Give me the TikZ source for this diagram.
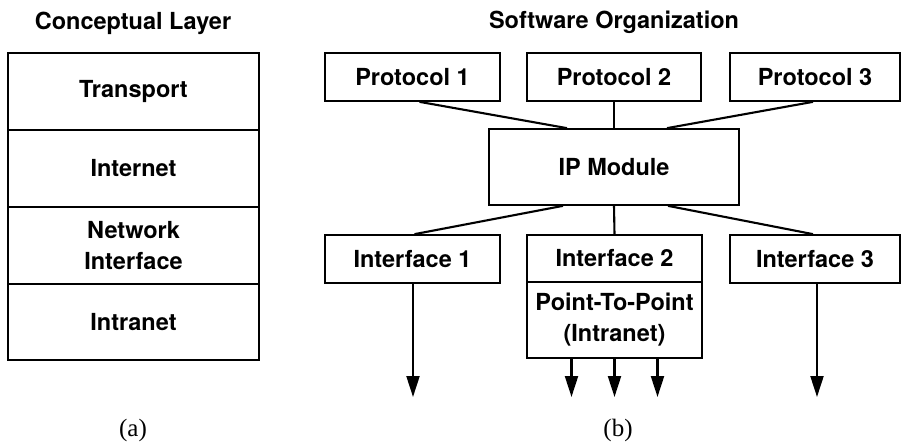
\documentclass[tikz,border=0pt]{standalone}
\usepackage{fontspec}
\setmainfont{TeX Gyre Heros}
\newfontfamily\capserif{Liberation Serif}
\usetikzlibrary{arrows.meta,calc}
\begin{document}
\begin{tikzpicture}[x=1pt,y=-1pt,
  lbl/.style={font=\fontsize{23.5}{31}\selectfont\bfseries, align=center},
  boxnode/.style={lbl, draw, line width=1.7pt, inner sep=0pt, anchor=center},
  link/.style={line width=2.1pt},
  outarrow/.style={line width=2.1pt, -{Triangle[length=21pt,width=13pt]}},
  captext/.style={font=\fontsize{25}{28}\selectfont\capserif}]
\useasboundingbox (0,0) rectangle (902,446);
% titles
\node[lbl] (t1) at (133,23) {Conceptual Layer};
\node[lbl] (t2) at (614,22) {Software Organization};
% conceptual layers
\node[boxnode, minimum width=251pt, minimum height=77pt] (tr) at (133.5,91.5) {Transport};
\node[boxnode, minimum width=251pt, minimum height=77pt] (in) at (133.5,168.5) {Internet};
\node[boxnode, minimum width=251pt, minimum height=77pt] (ni) at (133.5,245.5) {Network\\Interface};
\node[boxnode, minimum width=251pt, minimum height=76pt] (it) at (133.5,322) {Intranet};
% protocols
\node[boxnode, minimum width=175pt, minimum height=48pt] (p1) at (412.5,77) {Protocol 1};
\node[boxnode, minimum width=174pt, minimum height=48pt] (p2) at (614,77) {Protocol 2};
\node[boxnode, minimum width=170pt, minimum height=48pt] (p3) at (815,77) {Protocol 3};
% IP module
\node[boxnode, minimum width=250pt, minimum height=76pt] (ip) at (614,167) {IP Module};
% interfaces
\node[boxnode, minimum width=175pt, minimum height=48pt] (if1) at (412.5,259) {Interface 1};
\node[boxnode, minimum width=175pt, minimum height=47pt] (if2) at (614.5,258.5) {Interface 2};
\node[boxnode, minimum width=175pt, minimum height=76pt] (pp) at (614.5,320) {Point-To-Point\\(Intranet)};
\node[boxnode, minimum width=170pt, minimum height=48pt] (if3) at (815,259) {Interface 3};
% connectors
\draw[link] ([xshift=7pt]p1.south) -- ([xshift=-47pt]ip.north);
\draw[link] (p2.south) -- (ip.north);
\draw[link] ([xshift=-2pt]p3.south) -- ([xshift=53pt]ip.north);
\draw[link] ([xshift=-51pt]ip.south) -- ([xshift=2pt]if1.north);
\draw[link] (ip.south) -- (if2.north);
\draw[link] ([xshift=54pt]ip.south) -- ([xshift=-2pt]if3.north);
% outgoing arrows
\coordinate (e1) at (413,397);
\coordinate (e2) at (571.5,397);
\coordinate (e3) at (614.5,397);
\coordinate (e4) at (657.5,397);
\coordinate (e5) at (817,397);
\draw[outarrow] (if1.south -| e1) -- (e1);
\draw[outarrow] (pp.south -| e2) -- (e2);
\draw[outarrow] (pp.south) -- (e3);
\draw[outarrow] (pp.south -| e4) -- (e4);
\draw[outarrow] (if3.south -| e5) -- (e5);
% captions
\node[captext] (ca) at (133,430) {(a)};
\node[captext] (cb) at (618,430) {(b)};
\end{tikzpicture}
\end{document}
